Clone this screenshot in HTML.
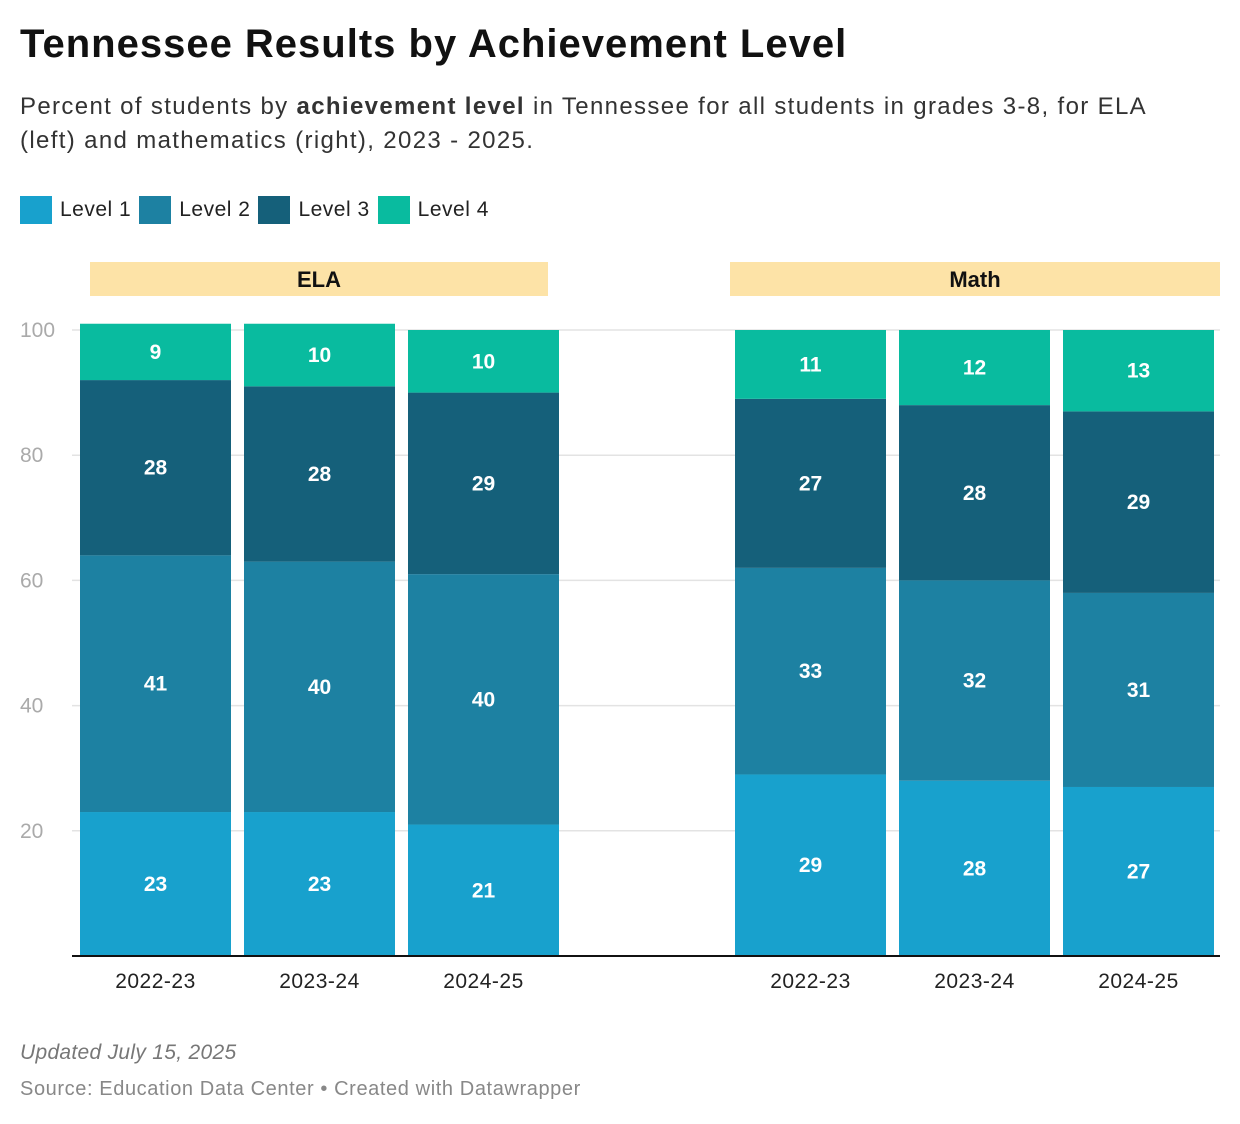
<!DOCTYPE html>
<html><head><meta charset="utf-8"><style>
body{margin:0;background:#fff;font-family:"Liberation Sans",Arial,sans-serif;}
#wrap{position:relative;width:1240px;height:1124px;overflow:hidden}
.t{position:absolute;white-space:nowrap}
</style></head><body>
<div id="wrap">
<div class="t" style="left:20px;top:22px;font-size:40px;letter-spacing:1px;font-weight:bold;color:#111">Tennessee Results by Achievement Level</div>
<div class="t" style="left:20px;top:90px;font-size:24px;letter-spacing:1.35px;line-height:34px;color:#333">Percent of students by <b>achievement level</b> in Tennessee for all students in grades 3-8, for ELA<br>(left) and mathematics (right), 2023 - 2025.</div>
<div style="position:absolute;left:20px;top:196px;height:28px;font-size:21px;letter-spacing:0.5px;color:#222;display:flex;align-items:center">
<span style="display:flex;align-items:center;margin-right:8px"><span style="width:32px;height:28px;background:#18a1cd;margin-right:8px"></span>Level 1</span>
<span style="display:flex;align-items:center;margin-right:8px"><span style="width:32px;height:28px;background:#1d81a2;margin-right:8px"></span>Level 2</span>
<span style="display:flex;align-items:center;margin-right:8px"><span style="width:32px;height:28px;background:#15607a;margin-right:8px"></span>Level 3</span>
<span style="display:flex;align-items:center"><span style="width:32px;height:28px;background:#09bb9f;margin-right:8px"></span>Level 4</span>
</div>
<svg id="chart" width="1240" height="1124" style="position:absolute;left:0;top:0"></svg>
<div class="t" style="left:20px;top:1041px;font-size:21px;letter-spacing:0.3px;font-style:italic;color:#777">Updated July 15, 2025</div>
<div class="t" style="left:20px;top:1078px;font-size:20px;letter-spacing:0.6px;color:#888">Source: Education Data Center • Created with Datawrapper</div>
</div>
<script>
const panels=["ELA","Math"];
const years=["2022-23","2023-24","2024-25"];
const level1=[[23,23,21],[29,28,27]];
const level2=[[41,40,40],[33,32,31]];
const level3=[[28,28,29],[27,28,29]];
const level4=[[9,10,10],[11,12,13]];
const yTicks=[20,40,60,80,100];
const levelNames=["level-1","level-2","level-3","level-4"];
const colors=["#18a1cd","#1d81a2","#15607a","#09bb9f"];
const NS="http://www.w3.org/2000/svg";
const svg=document.getElementById('chart');
const y0=956,ppu=6.26;
const y=v=>y0-v*ppu;
const panelX=[80,735],bw=151,step=164;
const bandX=[[90,548],[730,1220]];
function mk(t,a){const e=document.createElementNS(NS,t);for(const k in a)e.setAttribute(k,a[k]);svg.appendChild(e);return e;}
yTicks.forEach(t=>{
 const g=mk('line',{x1:72,x2:1220,y1:y(t),y2:y(t),stroke:'#e3e3e3','stroke-width':1.5});
 
 
 const l=mk('text',{x:20,y:y(t)+7,'font-size':21,fill:'#aaa','font-family':'Liberation Sans, sans-serif'});
 l.textContent=t;
 
 
});
panels.forEach((p,pi)=>{
 const [bx1,bx2]=bandX[pi];
 const band=mk('rect',{x:bx1,y:262,width:bx2-bx1,height:34,fill:'#fde3a7'});
 
 
 const bt=mk('text',{x:(bx1+bx2)/2,y:287,'text-anchor':'middle','font-size':22,'font-weight':'bold',fill:'#111','font-family':'Liberation Sans, sans-serif'});
 bt.textContent=p;
 
 
 years.forEach((yr,i)=>{
  const x=panelX[pi]+i*step;
  const vals=[level1[pi][i],level2[pi][i],level3[pi][i],level4[pi][i]];
  let acc=0;
  vals.forEach((v,li)=>{
   const r=mk('rect',{x:x,y:y(acc+v),width:bw,height:v*ppu,fill:colors[li]});
   
   
   const tx=mk('text',{x:x+bw/2,y:y(acc+v/2)+7,'text-anchor':'middle','font-size':21,'font-weight':'bold',fill:'#fff','font-family':'Liberation Sans, sans-serif'});
   tx.textContent=v;
   
   
   acc+=v;
  });
  const xl=mk('text',{x:x+bw/2,y:988,'text-anchor':'middle','font-size':21,'letter-spacing':0.5,fill:'#222','font-family':'Liberation Sans, sans-serif'});
  xl.textContent=yr;
  
  
 });
});
const ax=mk('line',{x1:72,x2:1220,y1:y0,y2:y0,stroke:'#111','stroke-width':2});


</script>
</body></html>
